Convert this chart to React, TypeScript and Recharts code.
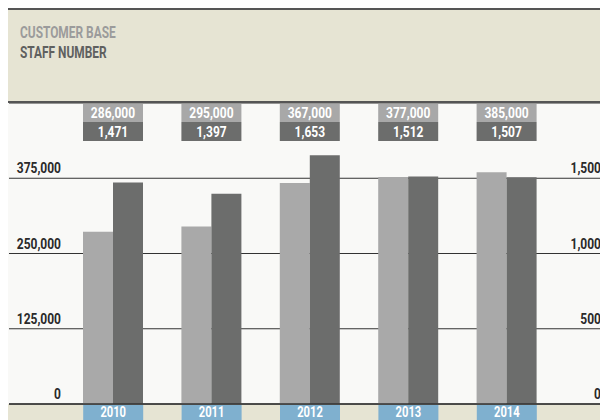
import React from 'react';
import { BarChart, Bar, XAxis, YAxis, CartesianGrid, LabelList } from 'recharts';

const years = ['2010', '2011', '2012', '2013', '2014'];
const customers = [286000, 295000, 367000, 377000, 385000];
const staff = [1471, 1397, 1653, 1512, 1507];
const customerTicks = [0, 125000, 250000, 375000];
const staffTicks = [0, 500, 1000, 1500];

const data = years.map((year, i) => ({ year, customers: customers[i], staff: staff[i] }));

const FONT = "Roboto, 'Liberation Sans', sans-serif";
const SQUEEZE = 0.8; // condensed look, no narrow font installed
const fmt = (v: number) => v.toLocaleString('en-US');

const NarrowText = ({ x, y, anchor = 'middle', fill, size = 15, children }: any) => (
  <text
    transform={`translate(${x},${y}) scale(${SQUEEZE},1)`}
    textAnchor={anchor}
    fontFamily={FONT}
    fontWeight="bold"
    fontSize={size}
    fill={fill}
  >
    {children}
  </text>
);

const AxisTick = (props: any) => {
  const { y, payload, textX } = props;
  return (
    <NarrowText x={textX} y={y - 5} anchor="end" fill="#2a2a2a">
      {fmt(payload.value)}
    </NarrowText>
  );
};

const YearTick = (props: any) => {
  const { x, y, payload } = props;
  return (
    <g>
      <rect x={x - 30} y={y + 1} width={60} height={15} fill="#7fb0cf" />
      <NarrowText x={x} y={y + 13} size={14} fill="#fff">
        {payload.value}
      </NarrowText>
    </g>
  );
};

// value boxes pinned to the top of the plot, one pair per year
const BoxLabel = (props: any) => {
  const { x, width, value } = props;
  const i = props.index ?? customers.indexOf(value);
  const w = width * 2;
  return (
    <g>
      <rect x={x} y={1} width={w} height={18} fill="#a8a8a8" />
      <NarrowText x={x + w / 2} y={15} fill="#fff">{fmt(value)}</NarrowText>
      <rect x={x} y={19} width={w} height={19} fill="#6c6d6c" />
      <NarrowText x={x + w / 2} y={34} fill="#fff">{fmt(staff[i])}</NarrowText>
    </g>
  );
};

const titleLine = (color: string, text: string) => (
  <div style={{ color }}>
    <span style={{ display: 'inline-block', transform: 'scaleX(0.7)', transformOrigin: 'left' }}>{text}</span>
  </div>
);

export default function App() {
  return (
    <div style={{ width: 600, height: 412, fontFamily: FONT }}>
      <style>{'html,body{overflow:hidden}'}</style>
      <div
        style={{
          boxSizing: 'border-box',
          height: 95,
          background: '#e6e4d3',
          borderTop: '2px solid #555',
          borderBottom: '2px solid #555',
          paddingTop: 12,
          paddingLeft: 12,
          fontWeight: 'bold',
          fontSize: 17,
          lineHeight: '20px',
          whiteSpace: 'nowrap',
        }}
      >
        {titleLine('#9b9b9b', 'CUSTOMER BASE')}
        {titleLine('#5f605f', 'STAFF NUMBER')}
      </div>
      <div style={{ background: 'linear-gradient(to bottom, #f9f9f7 301px, #e6e4d3 301px)' }}>
        <BarChart
          width={600}
          height={317}
          data={data}
          margin={{ top: 0, right: 0, bottom: 0, left: 0 }}
          barGap={0}
          barSize={30}
        >
          <CartesianGrid yAxisId="left" vertical={false} stroke="#333" strokeWidth={1} />
          <XAxis
            dataKey="year"
            height={16}
            padding={{ left: 55, right: 51 }}
            tickLine={false}
            tickSize={0}
            tickMargin={0}
            axisLine={{ stroke: '#333', strokeWidth: 1.5 }}
            tick={(p: any) => <YearTick {...p} />}
            interval={0}
          />
          <YAxis
            yAxisId="left"
            domain={[0, 500000]}
            ticks={customerTicks}
            width={1}
            axisLine={false}
            tickLine={false}
            interval={0}
            tick={(p: any) => <AxisTick {...p} textX={53} />}
          />
          <YAxis
            yAxisId="right"
            orientation="right"
            domain={[0, 2000]}
            ticks={staffTicks}
            width={1}
            axisLine={false}
            tickLine={false}
            interval={0}
            tick={(p: any) => <AxisTick {...p} textX={593} />}
          />
          <Bar yAxisId="left" dataKey="customers" fill="#a9a9a9" isAnimationActive={false}>
            <LabelList dataKey="customers" content={BoxLabel} />
          </Bar>
          <Bar yAxisId="right" dataKey="staff" fill="#6c6d6c" isAnimationActive={false} />
        </BarChart>
      </div>
    </div>
  );
}
